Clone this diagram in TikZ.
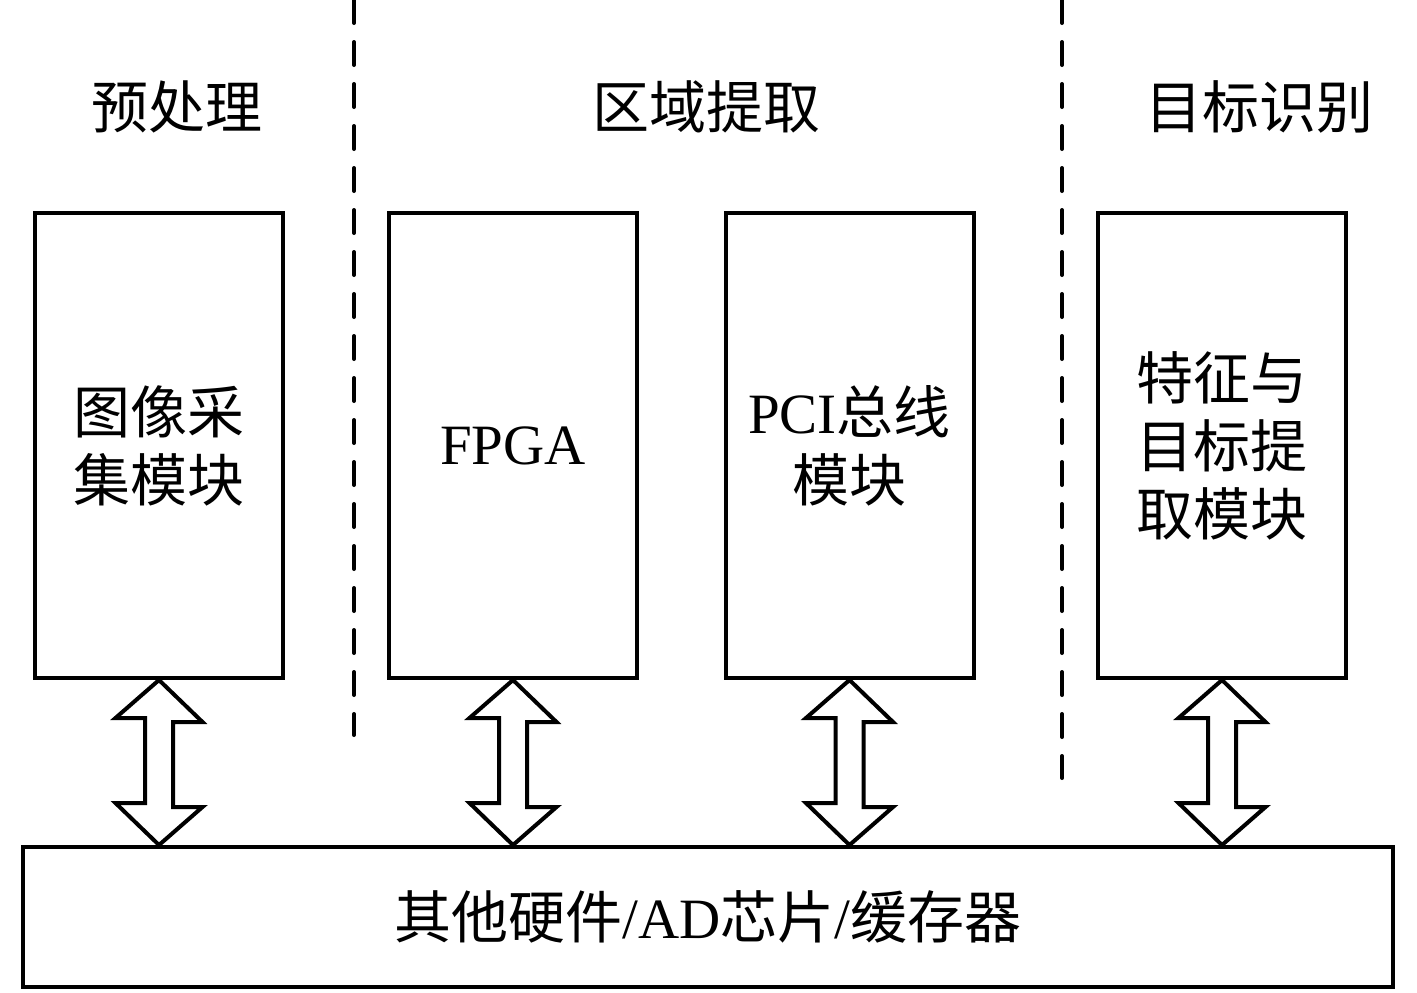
\documentclass[tikz,border=0pt]{standalone}
\usepackage{fontspec}
\setmainfont{Liberation Serif}
\newfontfamily\cjk{Noto Sans CJK SC}
\tikzset{
	module/.style={draw, line width=2pt, minimum width=124pt, minimum height=232.5pt, align=center, font=\cjk\fontsize{28.5}{34}\selectfont},
	busbox/.style={draw, line width=2pt, minimum width=685pt, minimum height=70pt, font=\cjk\fontsize{28.5}{34}\selectfont},
	heading/.style={font=\cjk\fontsize{28.5}{34}\selectfont},
	divider/.style={line width=2pt, dash pattern=on 11.5pt off 9.5pt, line cap=round},
	dbarrow/.style={line width=2pt, line join=miter}
}
\begin{document}
\begin{tikzpicture}[x=0.5pt, y=-0.5pt]
	\useasboundingbox (0,0) rectangle (1417,992);

	\node[heading] (pre) at (177,107) {预处理};
	\node[heading] (roi) at (706,107) {区域提取};
	\node[heading] (rec) at (1259,107) {目标识别};

	\draw[divider] (354,0) -- (354,735);
	\draw[divider] (1062,0) -- (1062,778);

	\node[module] (capture) at (159,445.5) {图像采\\集模块};
	\node[module] (fpga) at (513,445.5) {\rmfamily FPGA};
	\node[module] (pci) at (849.5,445.5) {{\rmfamily PCI}总线\\模块};
	\node[module] (feature) at (1222,445.5) {特征与\\目标提\\取模块};

	\node[busbox] (bus) at (708,917) {其他硬件{\rmfamily /AD}芯片{\rmfamily /}缓存器};

	\foreach \m in {capture, fpga, pci, feature}
		\draw[dbarrow] (\m.south) -- ++(43.5,42) -- ++(-29.5,0) -- ++(0,85) -- ++(29.5,0)
			-- (\m.south |- bus.north) -- ++(-43.5,-42) -- ++(29.5,0) -- ++(0,-85) -- ++(-29.5,0) -- cycle;
\end{tikzpicture}
\end{document}
